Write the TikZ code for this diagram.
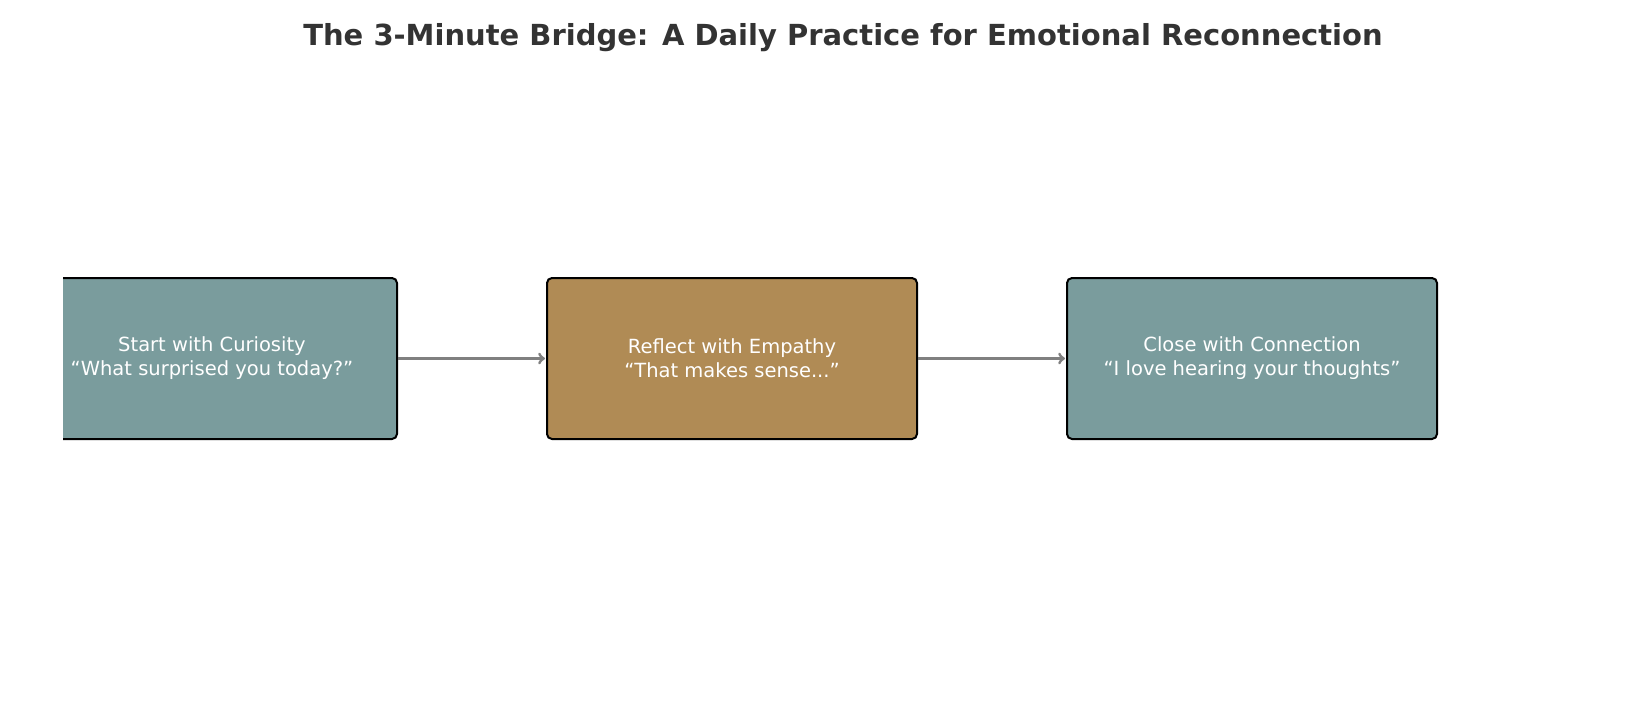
\documentclass[tikz,border=0pt]{standalone}
\usepackage{fontspec}
\setmainfont{DejaVu Sans}
\usetikzlibrary{positioning}
\definecolor{tealbox}{HTML}{7A9C9D}
\definecolor{ochrebox}{HTML}{B08B55}
\definecolor{titlegray}{HTML}{333333}

\begin{document}
\begin{tikzpicture}[x=1bp, y=-1bp,
    stage/.style={rectangle, draw=black, line width=2bp, rounded corners=5bp, minimum width=370bp, minimum height=161bp, inner sep=0pt},
    stagetext/.style={text=white, align=center, font=\fontsize{19.5bp}{24bp}\selectfont},
    arrow/.style={->, line width=3bp, draw=gray, shorten >=1bp}
]
    \useasboundingbox (0,0) rectangle (1636,702);
    % Title
    \node[font=\bfseries\fontsize{29bp}{34bp}\selectfont, text=titlegray] (title) at (843,38) {The 3-Minute Bridge: A Daily Practice for Emotional Reconnection};

    % Stages
    \begin{scope}
        \clip (63,0) rectangle (1636,702);
        \node[stage, fill=tealbox] (curious) at (212,358.5) {};
        \begin{scope}
            \clip (63,280) rectangle (396,438);
            \node[stagetext] (curioustext) at (curious) {Start with Curiosity\\``What surprised you today?''};
        \end{scope}
    \end{scope}
    \node[stage, fill=ochrebox] (empathy) at (732,358.5) {};
    \node[stagetext] (empathytext) at (empathy) {Reflect with Empathy\\``That makes sense...''};
    \node[stage, fill=tealbox] (connect) at (1252,358.5) {};
    \begin{scope}
        \clip (1068,280) rectangle (1436,438);
        \node[stagetext] (connecttext) at (connect) {Close with Connection\\``I love hearing your thoughts''};
    \end{scope}

    % Arrows
    \draw[arrow] (curious.east) -- (empathy.west);
    \draw[arrow] (empathy.east) -- (connect.west);
\end{tikzpicture}
\end{document}
